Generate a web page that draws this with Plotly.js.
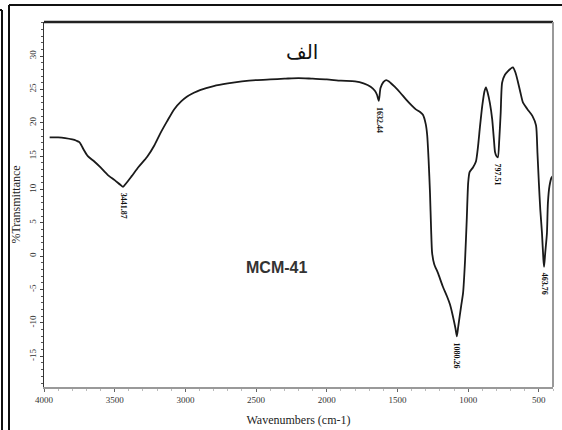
<!DOCTYPE html>
<html>
<head>
<meta charset="utf-8">
<script src="https://cdn.plot.ly/plotly-3.0.1.min.js"></script>
<style>html,body{margin:0;padding:0;background:#fff;}#chart{width:562px;height:430px;}</style>
</head>
<body>
<div id="chart"></div>
<script>
// Wavenumber (cm-1) and %Transmittance
var wavenumbers = [3960,3900,3850,3800,3770,3750,3735,3720,3690,3650,3600,3550,3500,3460,3441,3420,3380,3330,3270,3220,3180,3130,3080,3030,2990,2940,2897,2800,2700,2600,2500,2400,2300,2200,2100,2000,1900,1800,1740,1690,1660,1645,1632,1620,1600,1580,1560,1520,1480,1440,1400,1370,1340,1320,1300,1290,1280,1270,1262,1255,1240,1214,1180,1150,1129,1110,1090,1080,1070,1050,1036,1022,1010,1000,990,966,945,930,917,900,885,874,862,846,830,818,810,800,790,780,770,760,740,720,700,683,665,650,630,612,580,545,520,510,500,490,478,468,463,455,443,436,425,410,402];
var transmittance = [17.8,17.8,17.7,17.5,17.3,17.1,16.6,16.0,15.0,14.3,13.3,12.2,11.4,10.7,10.4,10.9,12.0,13.4,14.9,16.6,18.3,20.2,22.0,23.2,23.9,24.5,24.9,25.5,25.9,26.2,26.4,26.5,26.6,26.7,26.6,26.5,26.3,26.2,25.9,25.4,24.8,24.2,23.3,25.2,26.1,26.4,26.2,25.4,24.5,23.5,22.6,22.0,21.6,21.2,19.8,18.2,14.5,9.5,4.0,0.5,-1.2,-2.5,-4.5,-6.0,-7.2,-8.8,-10.8,-12.0,-10.5,-7.5,-5.5,-0.6,5.5,11.0,12.6,13.3,14.2,16.5,19.3,22.6,24.7,25.3,24.5,22.9,20.5,17.5,15.6,15.0,14.8,17.5,21.5,26.0,27.2,27.7,28.1,28.3,27.5,26.3,24.5,23.0,22.0,21.0,19.6,15.5,11.0,7.0,3.5,-0.5,-1.6,0.5,3.4,8.0,10.5,11.8,12.0];

// Peak labels
var peakWn = [3441, 1632, 1080, 790, 463];
var peakT = [10.4, 23.3, -12.0, 14.8, -1.6];
var peakLabels = ["3441.87", "1632.44", "1080.26", "797.51", "463.76"];

var xTicks = [4000, 3500, 3000, 2500, 2000, 1500, 1000, 500];
var yTicks = [-15, -10, -5, 0, 5, 10, 15, 20, 25, 30];

var W = 562, H = 430;
var M = {l: 44, r: 9, t: 22, b: 43};
var pw = W - M.l - M.r, ph = H - M.t - M.b;
function px(x) { return (x - M.l) / pw; }
function py(y) { return (H - M.b - y) / ph; }

var shapes = [
  // outer frame
  {type:'line', xref:'paper', yref:'paper', x0:px(2), x1:px(2), y0:py(10), y1:py(432), line:{color:'#111', width:2}},
  {type:'line', xref:'paper', yref:'paper', x0:px(0), x1:px(2), y0:py(10), y1:py(10), line:{color:'#111', width:2}},
  {type:'line', xref:'paper', yref:'paper', x0:px(9), x1:px(9), y0:py(5), y1:py(432), line:{color:'#111', width:2}},
  {type:'line', xref:'paper', yref:'paper', x0:px(9), x1:px(564), y0:py(5), y1:py(5), line:{color:'#111', width:2}},
  // plot frame top & right
  {type:'line', xref:'paper', yref:'paper', x0:0, x1:1, y0:1, y1:1, line:{color:'#222', width:2.5}},
  {type:'line', xref:'paper', yref:'paper', x0:1, x1:1, y0:0, y1:1, line:{color:'#999', width:2}}
];

var annotations = [
  {text:'الف', xref:'paper', yref:'paper', x:px(302), y:py(52), xanchor:'center', yanchor:'middle', showarrow:false,
   font:{family:'DejaVu Sans', size:20, color:'#111'}},
  {text:'<b>MCM-41</b>', xref:'paper', yref:'paper', x:px(276), y:py(267), xanchor:'center', yanchor:'middle', showarrow:false,
   font:{family:'Liberation Sans', size:16, color:'#333'}}
];
for (var i = 0; i < peakWn.length; i++) {
  annotations.push({text:'<b>' + peakLabels[i] + '</b>', x:peakWn[i], y:peakT[i] - 0.6, xref:'x', yref:'y',
    yanchor:'top', xanchor:'center', showarrow:false, textangle:90,
    font:{family:'Liberation Serif', size:8, color:'#111'}});
}

var trace = {x: wavenumbers, y: transmittance, type:'scatter', mode:'lines',
  line:{color:'#1a1a1a', width:1.8, shape:'spline', smoothing:0.6}, hoverinfo:'skip'};

var layout = {
  width: W, height: H,
  margin: M,
  paper_bgcolor:'#fff', plot_bgcolor:'#fff',
  showlegend:false,
  xaxis:{range:[4000, 400], tickvals:xTicks, ticktext:xTicks.map(String), showgrid:false, zeroline:false,
    showline:true, linecolor:'#999', linewidth:2, ticks:'outside', ticklen:3, tickcolor:'#666',
    minor:{dtick:100, ticks:'outside', ticklen:2, tickcolor:'#bbb'},
    tickfont:{family:'Liberation Serif', size:9, color:'#333'},
    title:{text:'Wavenumbers (cm-1)', font:{family:'Liberation Serif', size:12, color:'#222'}, standoff:12}},
  yaxis:{range:[-19.6, 35.1], tickvals:yTicks, ticktext:yTicks.map(String), showgrid:false, zeroline:false,
    showline:true, linecolor:'#333', linewidth:1.5, ticks:'outside', ticklen:3, tickcolor:'#444',
    minor:{dtick:1, ticks:'outside', ticklen:2, tickcolor:'#555'},
    tickangle:-90,
    tickfont:{family:'Liberation Serif', size:9, color:'#333'},
    title:{text:'%Transmittance', font:{family:'Liberation Serif', size:12, color:'#222'}, standoff:4}},
  shapes: shapes,
  annotations: annotations
};

Plotly.newPlot('chart', [trace], layout, {displayModeBar:false, staticPlot:true});
</script>
</body>
</html>
